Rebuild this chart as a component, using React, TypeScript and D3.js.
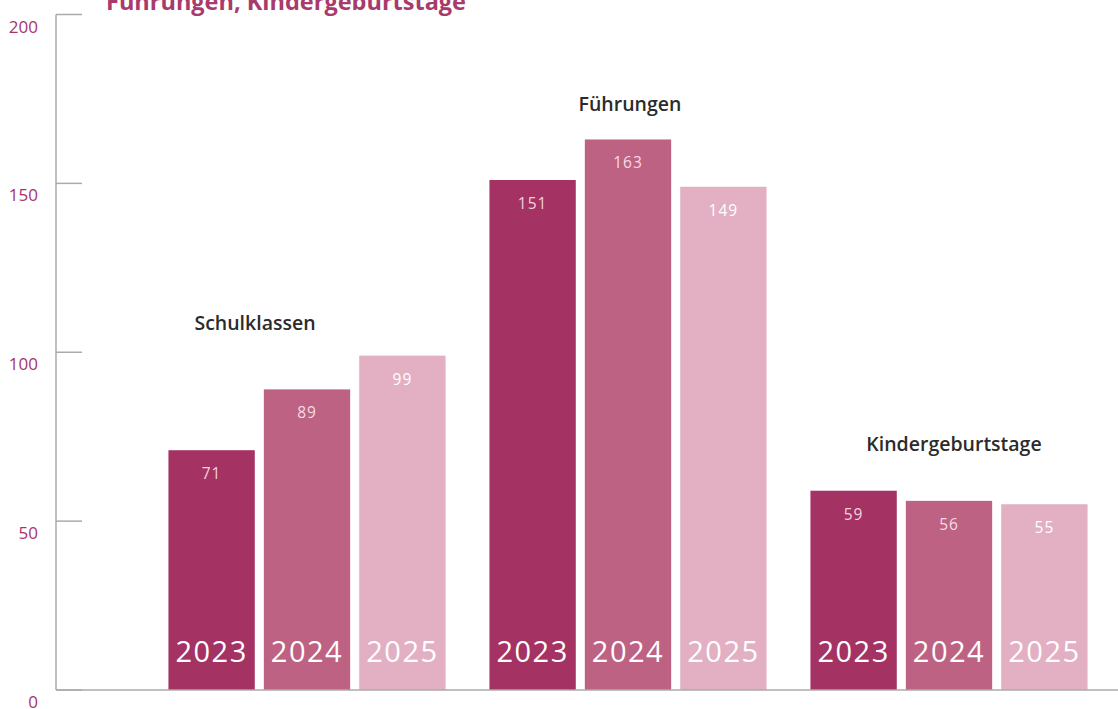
import React from "react";
import * as d3 from "d3";

const categories = ["Schulklassen", "Führungen", "Kindergeburtstage"];
const years = ["2023", "2024", "2025"];
const values2023 = [71, 151, 59];
const values2024 = [89, 163, 56];
const values2025 = [99, 149, 55];
const yTicks = [0, 50, 100, 150, 200];
const titleText = "Führungen, Kindergeburtstage";

const W = 1118;
const H = 709;
const colors = ["#a43262", "#be6283", "#e2afc3"];
const valueColors = ["#f3d3df", "#f5dbe5", "#ffffff"];
const labelDx = [-52, 2, 5];
const labelDy = [-32, -34, -46];

export default function App() {
  const series = [values2023, values2024, values2025];
  const y = d3.scaleLinear().domain([0, 200]).range([690, 14.5]);
  const x0 = d3.scaleBand<string>().domain(categories).range([146.5, 1109.5]).padding(0);
  const x1 = d3
    .scaleBand<string>()
    .domain(years)
    .range([0, x0.bandwidth()])
    .paddingInner(0.095)
    .paddingOuter(0.23);
  const font = "'Open Sans', 'DejaVu Sans', sans-serif";
  const axisColor = "#ababab";

  return (
    <svg width={W} height={H} style={{ position: "absolute", left: 0, top: 0, background: "#fff" }}>
      <text x={106} y={10} fontFamily={font} fontWeight={700} fontSize={23.5} fill="#a83a6c">
        {titleText}
      </text>
      {categories.map((c, ci) => (
        <g key={c} transform={`translate(${x0(c)},0)`}>
          {years.map((yr, yi) => {
            const v = series[yi][ci];
            const bx = x1(yr)!;
            const bw = x1.bandwidth();
            return (
              <g key={yr}>
                <rect x={bx} y={y(v)} width={bw} height={y(0) - y(v)} fill={colors[yi]} />
                <text
                  x={bx + bw / 2}
                  y={y(v) + 29}
                  textAnchor="middle"
                  fontFamily={font}
                  fontSize={15.5}
                  letterSpacing={1}
                  fill={valueColors[yi]}
                >
                  {v}
                </text>
                <text
                  x={bx + bw / 2}
                  y={662}
                  textAnchor="middle"
                  fontFamily={font}
                  fontSize={29}
                  letterSpacing={1.5}
                  fill="#ffffff"
                >
                  {yr}
                </text>
              </g>
            );
          })}
          <text
            x={x0.bandwidth() / 2 + labelDx[ci]}
            y={y(Math.max(...series.map((s) => s[ci]))) + labelDy[ci] + 6}
            textAnchor="middle"
            fontFamily={font}
            fontWeight={600}
            fontSize={19.5}
            fill="#2b2b2b"
          >
            {c}
          </text>
        </g>
      ))}
      <line x1={56} x2={56} y1={y(200)} y2={y(0)} stroke={axisColor} strokeWidth={1.5} />
      <line x1={56} x2={W} y1={y(0)} y2={y(0)} stroke={axisColor} strokeWidth={1.5} />
      {yTicks.map((t) => (
        <g key={t}>
          <line x1={56} x2={82} y1={y(t)} y2={y(t)} stroke={axisColor} strokeWidth={1.5} />
          <text
            x={38}
            y={y(t) + 18}
            textAnchor="end"
            fontFamily={font}
            fontSize={17}
            fill="#a8336a"
          >
            {t}
          </text>
        </g>
      ))}
    </svg>
  );
}
